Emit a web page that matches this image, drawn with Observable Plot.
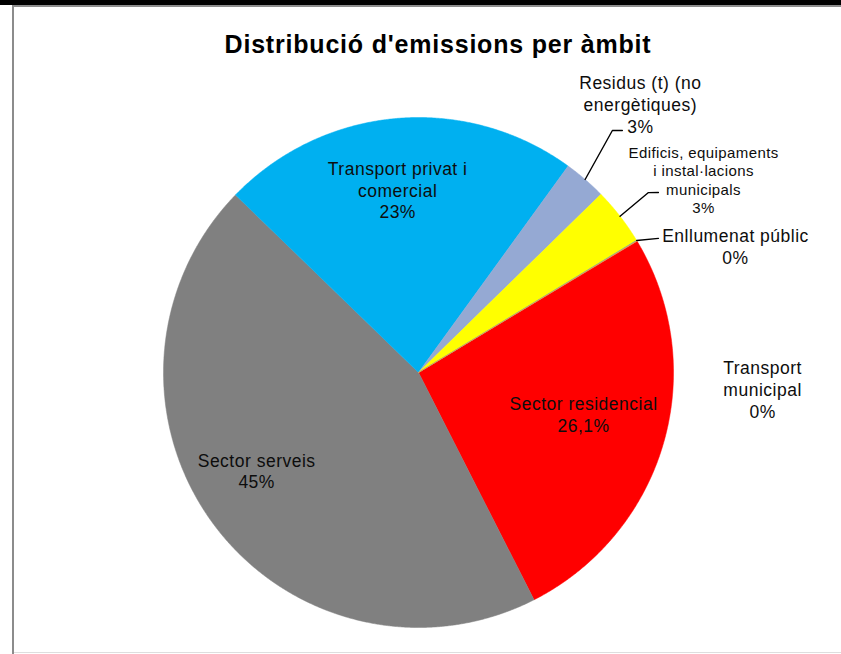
<!DOCTYPE html>
<html><head><meta charset="utf-8">
<script src="https://cdn.jsdelivr.net/npm/d3@7"></script>
<script src="https://cdn.jsdelivr.net/npm/@observablehq/plot@0.6"></script>
<style>
body{margin:0;background:#fff;}
#wrap{position:relative;width:841px;height:654px;overflow:hidden;font-family:"Liberation Sans",Arial,sans-serif;}
.topbar{position:absolute;left:0;top:0;width:841px;height:5px;background:#000;}
.topline{position:absolute;left:12px;top:5px;width:829px;height:2px;background:#8c8c8c;}
.leftline{position:absolute;left:12px;top:5px;width:2px;height:649px;background:#8c8c8c;}
.bottomline{position:absolute;left:14px;top:652px;width:827px;height:1px;background:#dedede;}
#chart{position:absolute;left:0;top:0;}
#chart g[font-size="17.5"]{letter-spacing:0.5px;}
#chart g[font-size="15"]{letter-spacing:0.4px;}
#chart g[font-size="25"]{letter-spacing:0.8px;}
</style></head><body>
<div id="wrap">
  <div class="topbar"></div><div class="topline"></div><div class="leftline"></div><div class="bottomline"></div>
  <div id="chart"></div>
</div>
<script>
// ---- data ----
const title = "Distribució d'emissions per àmbit";
const categories = ["Sector residencial", "Sector serveis", "Transport privat i comercial", "Residus (t) (no energètiques)", "Edificis, equipaments i instal·lacions municipals", "Enllumenat públic", "Transport municipal"];
const categoryLabels = ["Sector residencial", "Sector serveis", "Transport privat i\ncomercial", "Residus (t) (no\nenergètiques)", "Edificis, equipaments\ni instal·lacions\nmunicipals", "Enllumenat públic", "Transport\nmunicipal"];
const values = [26.1, 44.7, 22.7, 2.7, 3.64, 0.03, 0.03];
const valueLabels = ["26,1%", "45%", "23%", "3%", "3%", "0%", "0%"];
const colors = ["#FF0000", "#808080", "#00B0F0", "#95A9D3", "#FFFF00", "#4BACC6", "#F79646"];

// ---- layout ----
const W = 841, H = 654, cx = 418, cy = 372, R = 255;
const firstAngle = 59.0; // degrees clockwise from 12 o'clock
// label anchor: [angle deg, radius factor]
const labelPos = [[104, 0.667], [238.8, 0.742], [353.5, 0.722], [39.6, 1.365], [55.9, 1.35], [68.3, 1.338], [92.8, 1.351]];
const smallLabel = [false, false, false, false, true, false, false];
// leader bends: list of [radius factor, angle deg] after the slice edge point
const leaders = [null, null, null, [[1.216, 38.7], [1.241, 40.1]], [[1.145, 51.96], [1.176, 53.13]], [[1.078, 60.8]], null];

const rad = d => d * Math.PI / 180;
const polar = (a, r) => ({x: r * Math.sin(a), y: r * Math.cos(a)});

const arcs = d3.pie().sort(null).value(d => d)
  .startAngle(rad(firstAngle)).endAngle(rad(firstAngle) + 2 * Math.PI)(values);

const slicePts = [];
arcs.forEach((a, i) => {
  slicePts.push({i, color: colors[i], x: 0, y: 0});
  const n = Math.max(2, Math.ceil((a.endAngle - a.startAngle) / rad(0.25)));
  for (let k = 0; k <= n; k++) {
    const t = a.startAngle + (a.endAngle - a.startAngle) * k / n;
    slicePts.push({i, color: colors[i], ...polar(t, 1)});
  }
  slicePts.push({i, color: colors[i], x: 0, y: 0});
});

const leaderPts = [];
arcs.forEach((a, i) => {
  if (!leaders[i]) return;
  const mid = (a.startAngle + a.endAngle) / 2;
  leaderPts.push({i, ...polar(mid, 1)});
  leaders[i].forEach(([r, ang]) => leaderPts.push({i, ...polar(rad(ang), r)}));
});

const labels = categories.map((c, i) => ({
  i, small: smallLabel[i],
  text: categoryLabels[i] + "\n" + valueLabels[i],
  ...polar(rad(labelPos[i][0]), labelPos[i][1])
}));

const chart = Plot.plot({
  width: W, height: H,
  marginTop: 0, marginRight: 0, marginBottom: 0, marginLeft: 0,
  x: {domain: [-1, 1], range: [cx - R, cx + R], axis: null},
  y: {domain: [-1, 1], range: [cy + R, cy - R], axis: null},
  color: {type: "identity"},
  style: {fontFamily: "'Liberation Sans', Arial, sans-serif", background: "transparent", overflow: "visible"},
  marks: [
    Plot.line(slicePts, {x: "x", y: "y", z: "i", fill: "color", stroke: "color", strokeWidth: 0.5, curve: "linear"}),
    Plot.line(leaderPts, {x: "x", y: "y", z: "i", stroke: "#000", strokeWidth: 1.4}),
    Plot.text(labels.filter(d => !d.small), {x: "x", y: "y", text: "text", fontSize: 17.5, lineHeight: 1.25, lineAnchor: "middle", textAnchor: "middle", fill: "#0d0d0d"}),
    Plot.text(labels.filter(d => d.small), {x: "x", y: "y", text: "text", fontSize: 15, lineHeight: 1.22, lineAnchor: "middle", textAnchor: "middle", fill: "#0d0d0d"}),
    Plot.text([title], {frameAnchor: "top", dx: 17, dy: 44, fontSize: 25, fontWeight: "bold", lineAnchor: "middle", fill: "#000"})
  ]
});
document.getElementById("chart").appendChild(chart);
</script>
</body></html>
